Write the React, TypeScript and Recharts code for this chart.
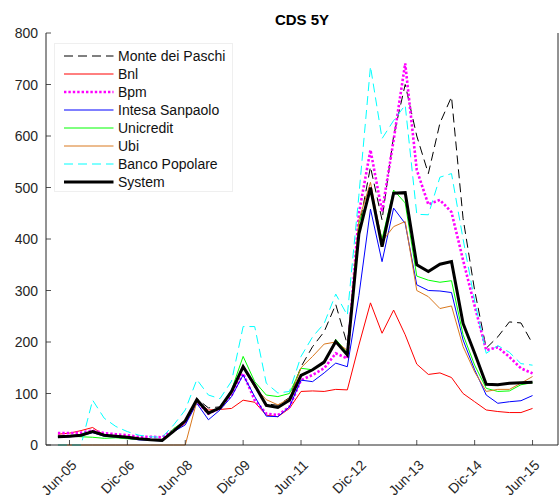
import { LineChart, Line, XAxis, YAxis, Legend } from "recharts";

// x positions are period indices; labels sit on every 5th period
const TICK_IDX = [1, 6, 11, 16, 21, 26, 31, 36, 41];
const TICK_LABELS = ["Jun-05", "Dic-06", "Jun-08", "Dic-09", "Jun-11", "Dic-12", "Jun-13", "Dic-14", "Jun-15"];
const Y_TICKS = [0, 100, 200, 300, 400, 500, 600, 700, 800];

// CDS 5Y spreads (bp)
const MPS = [17, 18, 20, 27, 20, 18, 16, 13, 11, 10, 28, 48, 90, 72, 74, 106, 150, 113, 80, 77, 92, 152, 191, 220, 273, 195, 420, 540, 437, 600, 700, 600, 527, 625, 676, 440, 300, 188, 210, 239, 237, 197];
const BNL = [21, 23, 28, 34, 19, 15, 13, 11, 10, 8, 26, 42, 84, 68, 69, 71, 87, 83, 58, 55, 71, 104, 105, 104, 108, 107, 194, 276, 217, 262, 214, 157, 137, 140, 131, 100, 84, 68, 65, 63, 63, 71];
const BPM = [23, 23, 24, 28, 23, 21, 19, 16, 16, 15, 29, 45, 84, 61, 71, 97, 139, 87, 61, 58, 74, 126, 136, 149, 178, 168, 450, 573, 453, 592, 741, 534, 467, 476, 452, 359, 270, 184, 190, 171, 149, 139];
const INTESA = [15, 16, 18, 24, 17, 15, 13, 10, 9, 8, 26, 39, 81, 49, 68, 94, 136, 94, 56, 55, 74, 126, 123, 140, 159, 152, 290, 458, 356, 460, 430, 311, 300, 299, 296, 204, 146, 97, 81, 84, 86, 96];
const UNICREDIT = [16, 17, 16, 15, 13, 14, 12, 11, 10, 8, 32, 47, 87, 61, 71, 107, 172, 123, 97, 94, 100, 149, 146, 159, 205, 180, 430, 490, 400, 495, 470, 328, 320, 316, 319, 214, 155, 110, 104, 105, 117, 121];
const UBI = [0, 0, 0, 0, 0, 0, 0, 0, 0, 0, 0, 0, 85, 64, 72, 100, 155, 112, 88, 78, 90, 150, 172, 196, 200, 184, 437, 510, 395, 424, 434, 300, 288, 265, 270, 191, 142, 104, 108, 108, 120, 133];
const BANCO_POP = [0, 0, 0, 87, 52, 36, 26, 19, 16, 15, 39, 68, 127, 97, 90, 124, 230, 230, 120, 101, 104, 172, 210, 236, 293, 252, 485, 735, 595, 630, 660, 448, 447, 520, 527, 400, 280, 178, 193, 180, 158, 155];
const SYSTEM = [16, 17, 19, 26, 19, 17, 15, 12, 10, 9, 27, 47, 88, 62, 72, 104, 152, 116, 77, 73, 87, 135, 146, 161, 201, 175, 410, 500, 385, 489, 490, 350, 337, 351, 356, 236, 178, 118, 117, 120, 121, 122];

const SERIES = [
  { key: "mps", name: "Monte dei Paschi", values: MPS, color: "#000000", width: 1, dash: "9 5" },
  { key: "bnl", name: "Bnl", values: BNL, color: "#ff0000", width: 1, dash: undefined },
  { key: "bpm", name: "Bpm", values: BPM, color: "#ff00ff", width: 2.6, dash: "2.4 2" },
  { key: "intesa", name: "Intesa Sanpaolo", values: INTESA, color: "#0000ff", width: 1, dash: undefined },
  { key: "unicredit", name: "Unicredit", values: UNICREDIT, color: "#00ff00", width: 1, dash: undefined },
  { key: "ubi", name: "Ubi", values: UBI, color: "#d9781e", width: 1, dash: undefined },
  { key: "bancopop", name: "Banco Popolare", values: BANCO_POP, color: "#00ffff", width: 1, dash: "9 5" },
  { key: "system", name: "System", values: SYSTEM, color: "#000000", width: 3, dash: undefined },
];

const data = SYSTEM.map((_, i) => {
  const row: Record<string, number> = { idx: i };
  SERIES.forEach((s) => (row[s.key] = s.values[i]));
  return row;
});

const W = 559;
const H = 497;
const LEFT = 46;
const RIGHT = 558;
const TOP = 33;
const BOTTOM = 445;
const AXIS = "#262626";
const FONT = '"Liberation Sans", Arial, Helvetica, sans-serif';

function BottomTick({ x, payload }: any) {
  const label = TICK_LABELS[TICK_IDX.indexOf(payload.value)];
  return (
    <g>
      <line x1={x} y1={BOTTOM} x2={x} y2={BOTTOM - 5} stroke={AXIS} strokeWidth={0.8} />
      <text
        transform={`translate(${x + 8},${BOTTOM + 21}) rotate(-45)`}
        textAnchor="end"
        fontSize={14}
        fontFamily={FONT}
        fill={AXIS}
      >
        {label}
      </text>
    </g>
  );
}

function TopTick({ x }: any) {
  return <line x1={x} y1={TOP} x2={x} y2={TOP + 5} stroke={AXIS} strokeWidth={0.8} />;
}

function LeftTick({ y, payload }: any) {
  return (
    <g>
      <line x1={LEFT} y1={y} x2={LEFT + 5} y2={y} stroke={AXIS} strokeWidth={0.8} />
      <text x={LEFT - 8} y={y} dy={5} textAnchor="end" fontSize={14} fontFamily={FONT} fill={AXIS}>
        {payload.value}
      </text>
    </g>
  );
}

function RightTick({ y }: any) {
  return <line x1={RIGHT} y1={y} x2={RIGHT - 5} y2={y} stroke={AXIS} strokeWidth={0.8} />;
}

function LegendBox() {
  return (
    <div
      style={{
        width: 179,
        height: 149,
        boxSizing: "border-box",
        border: "1px solid #efefef",
        background: "#fff",
        paddingTop: 3,
        fontFamily: FONT,
        fontSize: 14,
        color: "#111",
      }}
    >
      {SERIES.map((s) => (
        <div key={s.key} style={{ height: 17.95, display: "flex", alignItems: "center" }}>
          <svg width={63} height={18} style={{ flex: "none" }}>
            <line
              x1={9}
              y1={9}
              x2={58.5}
              y2={9}
              stroke={s.color}
              strokeWidth={s.width}
              strokeDasharray={s.dash}
            />
          </svg>
          <span style={{ whiteSpace: "nowrap" }}>{s.name}</span>
        </div>
      ))}
    </div>
  );
}

export default function App() {
  return (
    <div style={{ position: "absolute", left: 0, top: 0, width: W, height: H, background: "#fff" }}>
      <div
        style={{
          position: "absolute",
          left: 0,
          width: LEFT + RIGHT,
          top: 11,
          textAlign: "center",
          fontFamily: FONT,
          fontWeight: "bold",
          fontSize: 15,
          color: "#000",
        }}
      >
        CDS 5Y
      </div>
      <LineChart width={W} height={H} data={data} margin={{ top: TOP, right: W - RIGHT - 1, left: 0, bottom: 0 }}>
        <XAxis
          dataKey="idx"
          type="number"
          domain={[-1.03, 43.2]}
          ticks={TICK_IDX}
          allowDataOverflow
          height={H - BOTTOM}
          tickSize={0}
          tickMargin={0}
          tick={<BottomTick />}
          stroke={AXIS}
          interval={0}
        />
        <XAxis
          xAxisId="top"
          orientation="top"
          dataKey="idx"
          type="number"
          domain={[-1.03, 43.2]}
          ticks={TICK_IDX}
          allowDataOverflow
          height={0}
          tickSize={0}
          tick={<TopTick />}
          stroke={AXIS}
          interval={0}
        />
        <YAxis
          type="number"
          domain={[0, 800]}
          ticks={Y_TICKS}
          width={LEFT}
          tickSize={0}
          tick={<LeftTick />}
          stroke={AXIS}
          interval={0}
        />
        <YAxis
          yAxisId="right"
          orientation="right"
          type="number"
          domain={[0, 800]}
          ticks={Y_TICKS}
          width={1}
          tickSize={0}
          tick={<RightTick />}
          stroke={AXIS}
          interval={0}
        />
        <Legend
          layout="vertical"
          align="center"
          verticalAlign="middle"
          content={<LegendBox />}
          wrapperStyle={{ left: 54, top: 43, width: 179, height: 149 }}
        />
        {SERIES.map((s) => (
          <Line
            key={s.key}
            dataKey={s.key}
            name={s.name}
            type="linear"
            stroke={s.color}
            strokeWidth={s.width}
            strokeDasharray={s.dash}
            dot={false}
            activeDot={false}
            isAnimationActive={false}
          />
        ))}
      </LineChart>
    </div>
  );
}
